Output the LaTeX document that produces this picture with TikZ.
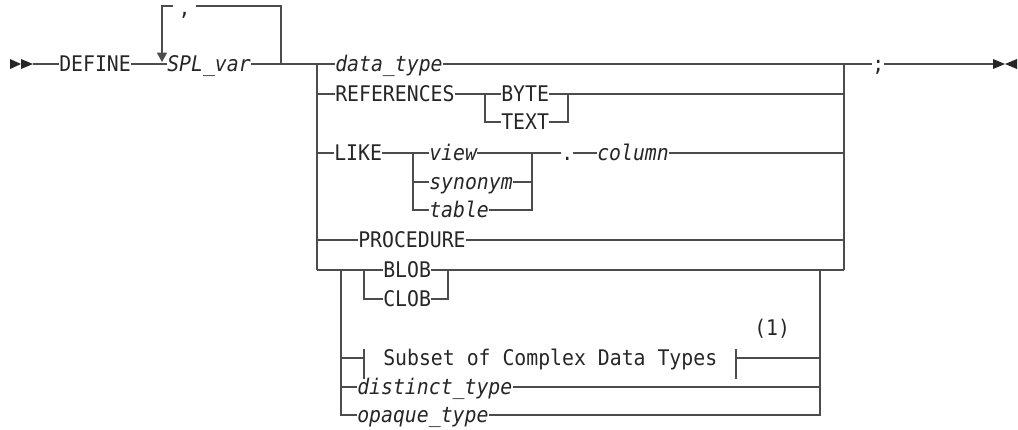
\documentclass[tikz,border=0pt]{standalone}
\usepackage{fontspec}
\newfontfamily\railfont[FakeStretch=0.92]{DejaVu Sans Mono}
\newfontfamily\railitfont[FakeStretch=0.92]{DejaVu Sans Mono Oblique}
\usepackage{tikz}
\usetikzlibrary{arrows.meta}

\begin{document}
\begin{tikzpicture}[
		x=0.75pt, y=-0.75pt,
		kw/.style={inner sep=0pt, anchor=west, text height=11.8pt, text depth=0pt, text=black!85, font=\fontsize{16.15pt}{19pt}\railfont},
		var/.style={kw, font=\fontsize{16.15pt}{19pt}\railitfont},
		rail/.style={line width=1pt, draw=black!70},
		loop_arrow/.style={rail, -{Triangle[width=7.5pt, length=7pt]}},
		end_mark/.style={fill=black!85}
		]
		\useasboundingbox (0,0) rectangle (1018,429);
		
		% Entry: DEFINE and the SPL_var repeat loop
		\fill[end_mark] (10,59) -- (21,64) -- (10,69) -- cycle;
		\fill[end_mark] (21,59) -- (33,64) -- (21,69) -- cycle;
		\coordinate (start) at (33,64);
		\node[kw] (define) at (59,64) {DEFINE};
		\node[var] (splvar) at (167,64) {SPL\_var};
		\node[kw, anchor=base west, text height=4pt, inner xsep=4pt] (comma) at (173,15) {,};
		\coordinate (loopL) at (162,62);
		\coordinate (loopR) at (281,64);
		\coordinate (loopTop) at (281,6);
		\draw[rail] (start) -- (define);
		\draw[rail] (define) -- (splvar);
		\draw[rail] (splvar) -- (loopR);
		\draw[rail] (loopR) -- (loopTop) -- (loopTop -| comma.east);
		\draw[loop_arrow] (loopTop -| comma.west) -| (loopL);
		
		% Main choice block
		\coordinate (bL) at (317,64);
		\coordinate (bR) at (844,64);
		\coordinate (bLend) at (317,270);
		\coordinate (bRend) at (844,270);
		\draw[rail] (bL) -- (bLend);
		\draw[rail] (bR) -- (bRend);
		
		\node[var] (datatype) at (335,64) {data\_type};
		\draw[rail] (loopR) -- (bL) -- (datatype);
		\draw[rail] (datatype) -- (bR);
		
		% Exit
		\node[kw] (semi) at (872,64) {;};
		\coordinate (stop) at (993,64);
		\draw[rail] (bR) -- (semi);
		\draw[rail] (semi) -- (stop);
		\fill[end_mark] (993,59) -- (1005,64) -- (993,69) -- cycle;
		\fill[end_mark] (1017,59) -- (1005,64) -- (1017,69) -- cycle;
		
		% REFERENCES BYTE / TEXT
		\node[kw] (refs) at (335,94) {REFERENCES};
		\coordinate (rj) at (485,94);
		\coordinate (rjR) at (568,94);
		\node[kw] (byte) at (501,94) {BYTE};
		\node[kw] (text) at (501,122) {TEXT};
		\draw[rail] (bL |- refs) -- (refs) -- (rj) -- (byte);
		\draw[rail] (rj) |- (text);
		\draw[rail] (byte) -- (rjR) -- (bR |- rjR);
		\draw[rail] (text) -| (rjR);
		
		% LIKE view / synonym / table . column
		\node[kw] (like) at (334,153) {LIKE};
		\coordinate (lj) at (413,153);
		\coordinate (ljR) at (532,153);
		\node[var] (view) at (429,153) {view};
		\node[var] (synonym) at (429,182) {synonym};
		\node[var] (table) at (429,210) {table};
		\node[kw] (dot) at (561,153) {.};
		\node[var] (column) at (597,153) {column};
		\draw[rail] (bL |- like) -- (like) -- (lj) -- (view);
		\draw[rail] (lj) |- (synonym);
		\draw[rail] (lj) |- (table);
		\draw[rail] (view) -- (ljR) -- (dot);
		\draw[rail] (synonym) -| (ljR);
		\draw[rail] (table) -| (ljR);
		\draw[rail] (dot) -- (column);
		\draw[rail] (column) -- (bR |- column);
		
		% PROCEDURE
		\node[kw] (proc) at (358,240) {PROCEDURE};
		\draw[rail] (bL |- proc) -- (proc) -- (bR |- proc);
		
		% Lower block: BLOB / CLOB, complex types, distinct, opaque
		\coordinate (ij) at (341,270);
		\coordinate (ijR) at (820,270);
		\coordinate (bj) at (364,270);
		\coordinate (bjR) at (448,270);
		\node[kw] (blob) at (383,270) {BLOB};
		\node[kw] (clob) at (383,299) {CLOB};
		\draw[rail] (bLend) -- (ij) -- (bj) -- (blob);
		\draw[rail] (bj) |- (clob);
		\draw[rail] (blob) -- (bjR) -- (ijR) -- (bRend);
		\draw[rail] (clob) -| (bjR);
		
		\node[kw] (subset) at (383,358) {Subset of Complex Data Types};
		\node[kw] (note) at (754,328) {(1)};
		\coordinate (sL) at (364,358);
		\coordinate (sR) at (736,358);
		\draw[rail] (ij |- subset) -- (sL);
		\draw[rail] (sL) -- ++(0,-9) (sL) -- ++(0,21);
		\draw[rail] (sR) -- ++(0,-9) (sR) -- ++(0,21);
		\draw[rail] (sR) -- (ijR |- sR);
		
		\node[var] (distinct) at (357,387) {distinct\_type};
		\node[var] (opaque) at (357,415) {opaque\_type};
		\draw[rail] (ij) |- (opaque);
		\draw[rail] (ij |- distinct) -- (distinct) -- (ijR |- distinct);
		\draw[rail] (opaque) -| (ijR);
		
	\end{tikzpicture}
\end{document}
